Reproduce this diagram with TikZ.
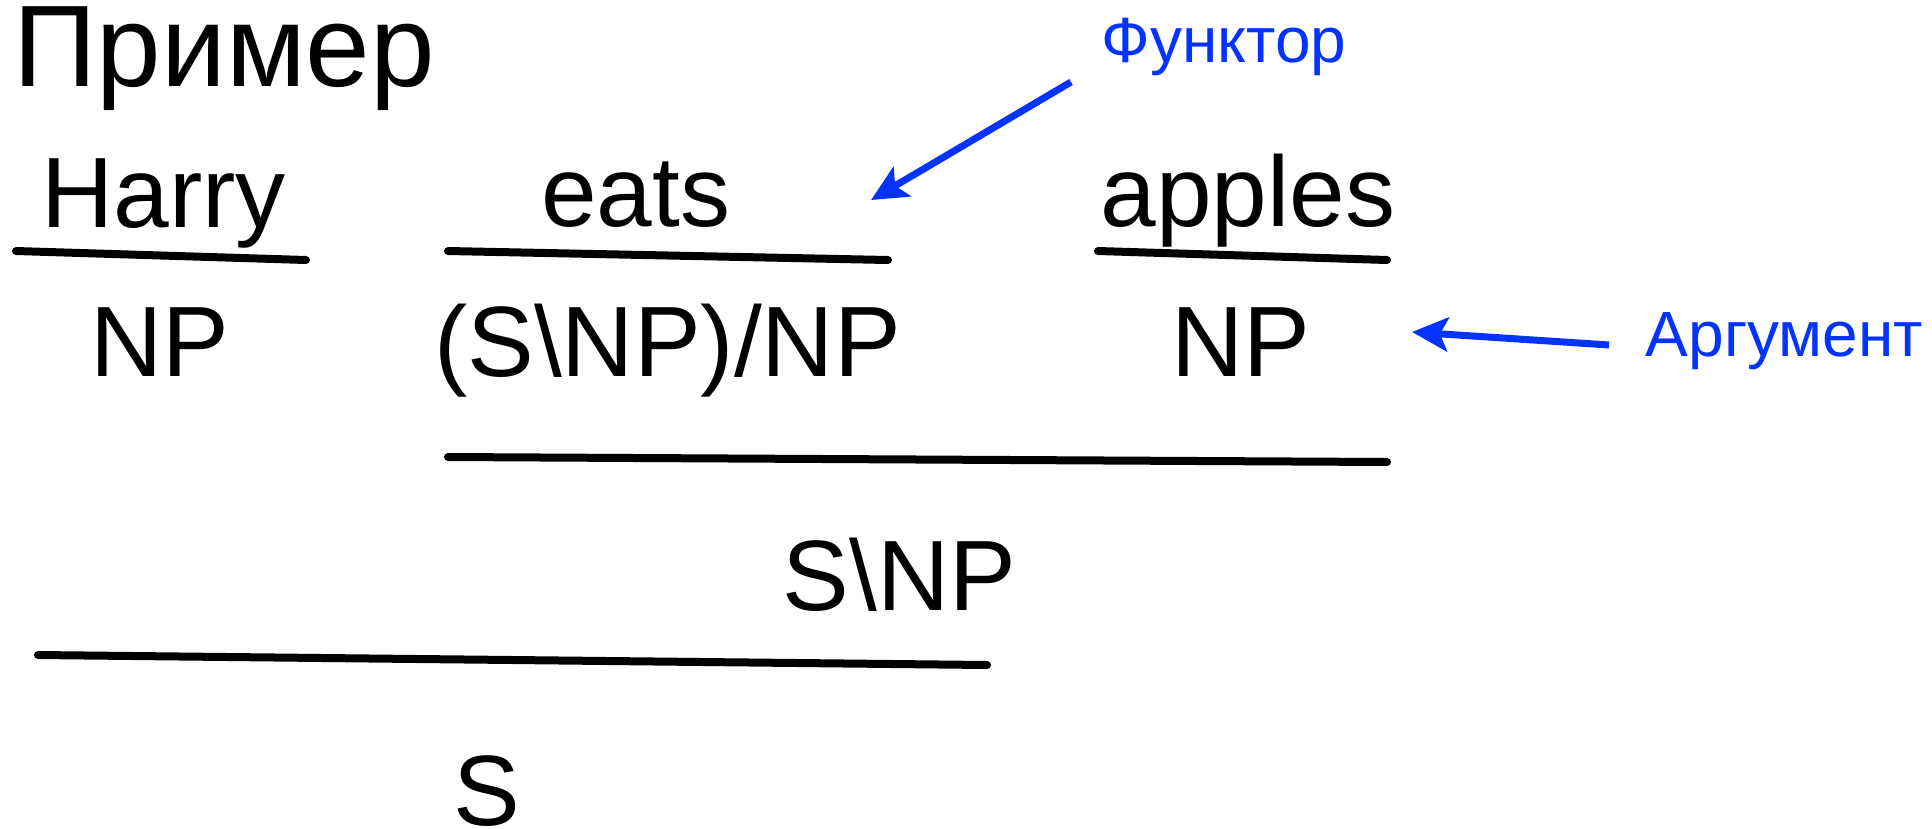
\documentclass[tikz,border=0pt]{standalone}
\usepackage{fontspec}
\setmainfont{Liberation Sans}
\usetikzlibrary{arrows.meta}
\definecolor{annblue}{RGB}{4,51,255}
\begin{document}
\begin{tikzpicture}[x=1pt,y=-1pt,
  big/.style={inner sep=0pt,anchor=base,font=\fontsize{100}{120}\selectfont},
  titletext/.style={inner sep=0pt,anchor=base,font=\fontsize{116}{140}\selectfont},
  ann/.style={inner sep=0pt,anchor=base,text=annblue,font=\fontsize{64}{76}\selectfont},
  bar/.style={line width=8pt,line cap=round},
  pointer/.style={annblue,line width=7pt,-{Stealth[length=36pt,width=34pt,inset=8pt]}}]
\useasboundingbox (0,0) rectangle (1932,828);
\node[titletext] (title) at (224,86) {Пример};
\node[big] (harry) at (163.5,227) {Harry};
\node[big] (eats) at (635.5,226) {eats};
\node[big] (apples) at (1248,226) {apples};
\node[big] (np1) at (160,376) {NP};
\node[big] (tv) at (667.5,376) {(S\textbackslash NP)/NP};
\node[big] (np2) at (1241,376) {NP};
\node[big] (vp) at (899.5,610) {S\textbackslash NP};
\node[big] (s) at (486.5,825) {S};
\node[ann] (funktor) at (1224,62) {Функтор};
\node[ann] (argument) at (1784.5,356) {Аргумент};
% derivation bars
\coordinate (h1) at (16,251); \coordinate (h2) at (306,260);
\coordinate (e1) at (448,251); \coordinate (e2) at (888,260);
\coordinate (a1) at (1098,251); \coordinate (a2) at (1387,260);
\coordinate (f1) at (448,457); \coordinate (f2) at (1387,462);
\coordinate (b1) at (38,655); \coordinate (b2) at (987,665);
\draw[bar] (h1) -- (h2);
\draw[bar] (e1) -- (e2);
\draw[bar] (a1) -- (a2);
\draw[bar] (f1) -- (f2);
\draw[bar] (b1) -- (b2);
% annotation arrows
\coordinate (ft) at (1071,82); \coordinate (fh) at (871,200);
\coordinate (at) at (1609,345); \coordinate (ah) at (1412,332);
\draw[pointer] (ft) -- (fh);
\draw[pointer] (at) -- (ah);
\end{tikzpicture}
\end{document}
